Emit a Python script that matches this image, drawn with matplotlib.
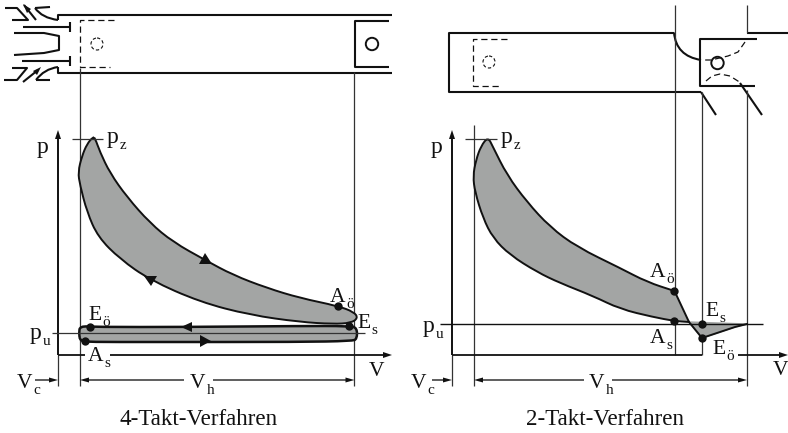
import matplotlib

matplotlib.use("Agg")
import matplotlib.pyplot as plt
from matplotlib.patches import Circle, PathPatch, Polygon
from matplotlib.path import Path

plt.rcParams["font.family"] = ["Liberation Serif", "DejaVu Serif"]

loop4_main = [
    (95, 138), (100, 152), (110, 173), (127, 197), (150, 223), (173, 242), (205, 260),
    (233, 275), (267, 288), (300, 298), (338, 306), (354, 312), (358, 318), (351, 323),
    (333, 324), (300, 322), (250, 315), (200, 302), (150, 280), (120, 259), (98, 237),
    (87, 212), (80, 185), (78, 172), (82, 156), (87, 144), (93, 137),
]
loop4_low = [
    (79, 333), (80, 326), (95, 327), (185, 327), (300, 326), (350, 326), (357, 328),
    (357, 339), (352, 341), (300, 342), (150, 342), (90, 342), (80, 341),
]
loop2_main = [
    (488, 137), (493, 147), (507, 175), (527, 202), (550, 227), (577, 247), (620, 268),
    (647, 282), (674.5, 291), (674.5, 291), (689, 322), (689, 322), (674.5, 321),
    (653, 317), (620, 309), (593, 296), (560, 283), (537, 272), (510, 255), (493, 238),
    (483, 218), (475, 192), (473, 176), (476, 160), (481, 146),
]
loop2_tail = [(689, 322), (702, 338), (720, 332), (735, 327), (747, 324)]
dots = [
    (90, 327), (85, 341), (338, 306), (349, 326),
    (674.5, 291), (674.5, 321), (702, 324), (702, 338),
]
labels = [
    ("p", "", 37, 153), ("p", "z", 107, 143), ("p", "u", 30, 339), ("E", "ö", 88, 320),
    ("A", "s", 88, 361), ("V", "c", 17, 388), ("V", "h", 190, 388), ("A", "ö", 330, 302),
    ("E", "s", 357, 328), ("V", "", 369, 376),
    ("p", "", 431, 153), ("p", "z", 501, 143), ("p", "u", 423, 332), ("A", "ö", 650, 277),
    ("E", "s", 705, 316), ("A", "s", 650, 343), ("E", "ö", 712, 354), ("V", "", 773, 375),
    ("V", "c", 411, 388), ("V", "h", 589, 388),
]
captions = [("4-Takt-Verfahren", 120), ("2-Takt-Verfahren", 526)]

INK = "#111111"
THIN = "#333333"
GREY = "#a3a5a4"

fig = plt.figure(figsize=(7.88, 4.33), dpi=100)
ax = fig.add_axes([0, 0, 1, 1])
ax.set_xlim(0, 788)
ax.set_ylim(433, 0)
ax.axis("off")


def line(pts, lw=1.5, color=INK, **kw):
    xs, ys = zip(*pts)
    ax.plot(xs, ys, lw=lw, color=color, solid_capstyle="butt", **kw)


def curve(pts, closed=True, **kw):
    # read points are used as quadratic bezier control points
    mid = lambda a, b: ((a[0] + b[0]) / 2, (a[1] + b[1]) / 2)
    if closed:
        verts = [mid(pts[-1], pts[0])]
        for a, b in zip(pts, pts[1:] + pts[:1]):
            verts += [a, mid(a, b)]
    else:
        verts = [pts[0]]
        for a, b in zip(pts[1:-1], pts[2:]):
            verts += [a, mid(a, b) if b != pts[-1] else b]
    codes = [Path.MOVETO] + [Path.CURVE3] * (len(verts) - 1)
    ax.add_patch(PathPatch(Path(verts, codes), **kw))


def head(pts):
    ax.add_patch(Polygon(pts, closed=True, fc=INK, ec="none", zorder=6))


def dashed(pts, lw=0.9):
    xs, ys = zip(*pts)
    ax.plot(xs, ys, lw=lw, color=INK, ls=(0, (5, 3)))


# 4-stroke engine sketch
line([(58, 20), (58, 15), (392, 15)])
line([(58, 67), (58, 73), (392, 73)])
line([(389, 20.5), (355, 20.5), (355, 67), (389, 67)])
ax.add_patch(Circle((372, 44), 6.2, fc="none", ec=INK, lw=1.4))
dashed([(114, 20), (80.5, 20), (80.5, 67), (110, 67)])
ax.add_patch(Circle((97, 44), 6, fc="none", ec=INK, lw=0.8, ls=(0, (3, 2))))
line([(23, 27), (70, 27)])
line([(70, 22), (70, 32)])
line([(22, 61), (70, 61)])
line([(70, 56), (70, 66)])
line([(14, 33), (44, 33), (59, 36), (59, 50), (44, 53), (14, 55)])
line([(5, 8), (17, 8), (28, 20), (12, 20)])
line([(24, 5), (36, 20)])
line([(50, 7), (35, 8)])
curve([(35, 8), (42, 18), (58, 20)], closed=False, fc="none", ec=INK, lw=1.5)
line([(4, 80), (17, 80), (27, 68), (12, 68)])
line([(23, 82), (38, 70)])
line([(50, 80), (36, 80)])
curve([(36, 80), (44, 69), (58, 67)], closed=False, fc="none", ec=INK, lw=1.5)
head([(23, 4), (31, 9), (27, 13)])
head([(41, 67), (33, 71), (37, 75)])

# 2-stroke engine sketch
line([(674, 32.5), (449, 32.5), (449, 92), (701, 92)])
curve([(674, 32.5), (676, 56), (701, 60)], closed=False, fc="none", ec=INK, lw=1.5)
line([(747, 33), (788, 33)])
line([(757, 39), (700.5, 39), (700.5, 86), (755, 86)])
ax.add_patch(Circle((717.5, 63), 6.2, fc="none", ec=INK, lw=1.4))
dashed([(507, 39), (473, 39), (473, 86), (502, 86)])
ax.add_patch(Circle((489, 62), 6, fc="none", ec=INK, lw=0.8, ls=(0, (3, 2))))
dashed([(745, 42), (738, 52), (728, 56), (711, 60), (702, 60)])
dashed([(706, 81), (712, 76), (720, 74), (730, 76), (741, 83)])
line([(701, 92), (716, 115)])
line([(740, 83), (762, 115)])

# guide lines
for x, y0, y1 in [(80, 68, 386), (354.5, 72, 386), (58, 355, 386), (474, 125, 386),
                  (452, 355, 386), (675, 5, 355), (702, 92, 355), (747, 5, 33), (747, 90, 386)]:
    line([(x, y0), (x, y1)], lw=0.9, color=THIN)

# p-V diagrams
curve(loop4_main, fc=GREY, ec=INK, lw=1.4, zorder=3)
curve(loop4_low, fc=GREY, ec=INK, lw=1.8, zorder=3)
curve(loop2_main, fc=GREY, ec=INK, lw=1.4, zorder=3)
tail_x, tail_y = zip(*loop2_tail)
ax.fill(tail_x, tail_y, color=GREY, zorder=2)
ax.plot(tail_x, tail_y, lw=1.4, color=INK, zorder=3)

line([(58, 355), (58, 136)], lw=1.4)
line([(452, 355), (452, 136)], lw=1.4)
line([(58, 355), (85, 355)], lw=1.3)
line([(110, 355), (386, 355)], lw=1.3)
line([(452, 355), (702, 355)], lw=1.3)
line([(738, 355), (784, 355)], lw=1.3)
head([(58, 130), (55, 139), (61, 139)])
head([(452, 130), (449, 139), (455, 139)])
head([(392, 355), (383, 352), (383, 358)])
head([(788, 355), (779, 352), (779, 358)])

line([(72, 139), (103, 139)], lw=0.9, color=THIN, zorder=4)
line([(465, 138.5), (497, 138.5)], lw=0.9, color=THIN, zorder=4)
line([(52, 333), (365, 333)], lw=0.9, color=THIN, zorder=4)
line([(440, 324), (763, 324)], lw=1.0, zorder=4)

# dimension arrows
line([(35, 380), (54, 380)], lw=1.1, color=THIN)
line([(84, 380), (184, 380)], lw=1.1, color=THIN)
line([(213, 380), (350, 380)], lw=1.1, color=THIN)
line([(432, 380), (448, 380)], lw=1.1, color=THIN)
line([(478, 380), (584, 380)], lw=1.1, color=THIN)
line([(612, 380), (743, 380)], lw=1.1, color=THIN)
for tip, d in [(58, -1), (80, 1), (354.5, -1), (452, -1), (474, 1), (747, -1)]:
    head([(tip, 380), (tip + d * 9, 377.5), (tip + d * 9, 382.5)])

# cycle direction marks
head([(205, 253), (199, 264), (212, 264)])
head([(151, 286), (144, 276), (157, 276)])
head([(181, 327), (192, 322), (192, 332)])
head([(211, 341), (200, 335), (200, 347)])

xs, ys = zip(*dots)
ax.plot(xs, ys, "o", ms=6, color=INK, mec="none", zorder=7)

for main, sub, x, y in labels:
    size = 17 if main == "p" else 15.5
    t = ax.text(x, y, main, fontsize=size, color=INK, va="baseline", ha="left", zorder=8)
    if sub:
        w = t.get_window_extent(fig.canvas.get_renderer()).width
        ax.text(x + w + 1, y + 6, sub, fontsize=11, color=INK, va="baseline", ha="left", zorder=8)

for text, x in captions:
    ax.text(x, 425, text, fontsize=16.6, color=INK, va="baseline", ha="left")

fig.savefig("out.png", dpi=100)
